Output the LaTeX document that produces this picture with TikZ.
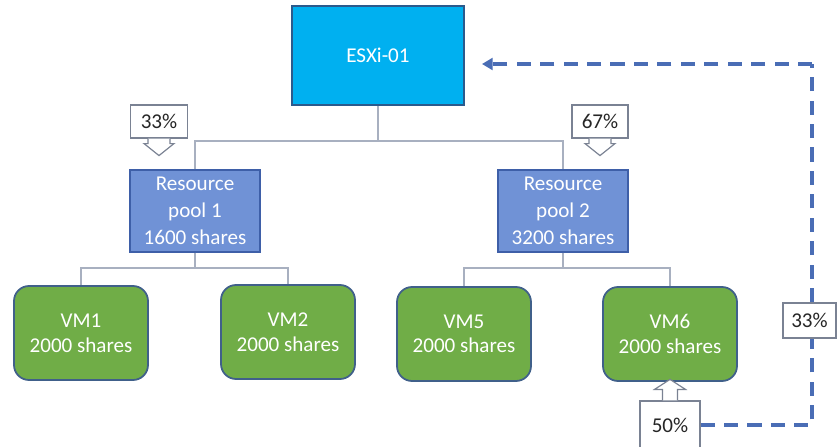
\documentclass[tikz,border=0pt]{standalone}
\usepackage{fontspec}
\setmainfont{Carlito}
\usetikzlibrary{arrows.meta}

\definecolor{esxblau}{HTML}{00B0F0}
\definecolor{esxrand}{HTML}{2B5A8C}
\definecolor{poolblau}{HTML}{7092D6}
\definecolor{poolrand}{HTML}{3E5FA8}
\definecolor{vmgruen}{HTML}{70AD47}
\definecolor{vmrand}{HTML}{40608A}
\definecolor{liniengrau}{HTML}{A8B0C0}
\definecolor{rahmengrau}{HTML}{7A8293}
\definecolor{strichblau}{HTML}{4A6DB5}
\definecolor{textdunkel}{HTML}{262626}

\tikzset{
    hostbox/.style={draw=esxrand, line width=1.5pt, fill=esxblau, text=white,
        minimum width=5.16cm, minimum height=2.97cm,
        font=\fontsize{18}{22}\selectfont},
    poolbox/.style={draw=poolrand, line width=1.2pt, fill=poolblau, text=white,
        align=center, minimum width=3.9cm, minimum height=2.46cm, inner sep=1pt,
        font=\fontsize{18}{23}\selectfont},
    vmbox/.style={draw=vmrand, line width=1.5pt, fill=vmgruen, text=white,
        rounded corners=0.45cm, align=center, minimum width=4.02cm, minimum height=2.82cm,
        font=\fontsize{18}{21}\selectfont},
    baum/.style={draw=liniengrau, line width=1.2pt},
    calloutbox/.style={draw=rahmengrau, line width=1pt, fill=white, text=textdunkel,
        inner sep=0pt, font=\fontsize{18}{22}\selectfont},
    calloutpfeil/.style={draw=rahmengrau, line width=1pt, fill=white},
    dashline/.style={draw=strichblau, line width=3pt, dash pattern=on 12pt off 8pt}
}

\begin{document}
\begin{tikzpicture}[x=0.03cm, y=-0.03cm]
        \useasboundingbox (0,0) rectangle (838,446);

        % zeichne Host und Ressourcenpools
        \node[hostbox] (esx) at (378,55.5) {ESXi-01};
        \node[poolbox] (rp1) at (195,211) {Resource\\pool 1\\1600 shares};
        \node[poolbox] (rp2) at (563,211) {Resource\\pool 2\\3200 shares};

        % zeichne VMs
        \node[vmbox] (vm1) at (81,333) {VM1\\2000 shares};
        \node[vmbox] (vm2) at (288,332) {VM2\\2000 shares};
        \node[vmbox] (vm5) at (464,334) {VM5\\2000 shares};
        \node[vmbox] (vm6) at (670,334) {VM6\\2000 shares};

        % zeichne Verbindungen
        \coordinate (bus1) at (378,141);
        \coordinate (bus2) at (195,268);
        \coordinate (bus3) at (563,268);
        \draw[baum] (esx.south) -- (bus1);
        \draw[baum] (rp1.north) |- (bus1) -| (rp2.north);
        \draw[baum] (rp1.south) -- (bus2);
        \draw[baum] (vm1.north) |- (bus2) -| (vm2.north);
        \draw[baum] (rp2.south) -- (bus3);
        \draw[baum] (vm5.north) |- (bus3) -| (vm6.north);

        % zeichne Rueckfuehrung
        \coordinate (ecke) at (812,64);
        \coordinate (spitze) at (482,64);
        \node[calloutbox, minimum width=1.8cm, minimum height=1.44cm] (c50) at (670,425) {50\%};
        \draw[dashline] (c50.east) -| (ecke);
        \draw[dashline, -{Triangle[length=9pt,width=10pt]}] (ecke) -- (spitze);
        \node[calloutbox, minimum width=1.59cm, minimum height=1.05cm] (c33r) at (809.5,320.5) {33\%};

        % zeichne Anteile
        \node[calloutbox, minimum width=1.71cm, minimum height=0.99cm] (c33) at (159,121.5) {33\%};
        \node[calloutbox, minimum width=1.68cm, minimum height=0.99cm] (c67) at (600,121.5) {67\%};
        \draw[calloutpfeil] (c33.south) ++(-11,0) -- ++(0,5) -- ++(-4,0) -- ++(15,12) -- ++(15,-12) -- ++(-4,0) -- ++(0,-5);
        \draw[calloutpfeil] (c67.south) ++(-11,0) -- ++(0,5) -- ++(-4,0) -- ++(15,12) -- ++(15,-12) -- ++(-4,0) -- ++(0,-5);
        \draw[calloutpfeil] (c50.north) ++(-7.5,0) -- ++(0,-11) -- ++(-8,0) -- ++(15.5,-10) -- ++(15.5,10) -- ++(-8,0) -- ++(0,11);
\end{tikzpicture}
\end{document}
